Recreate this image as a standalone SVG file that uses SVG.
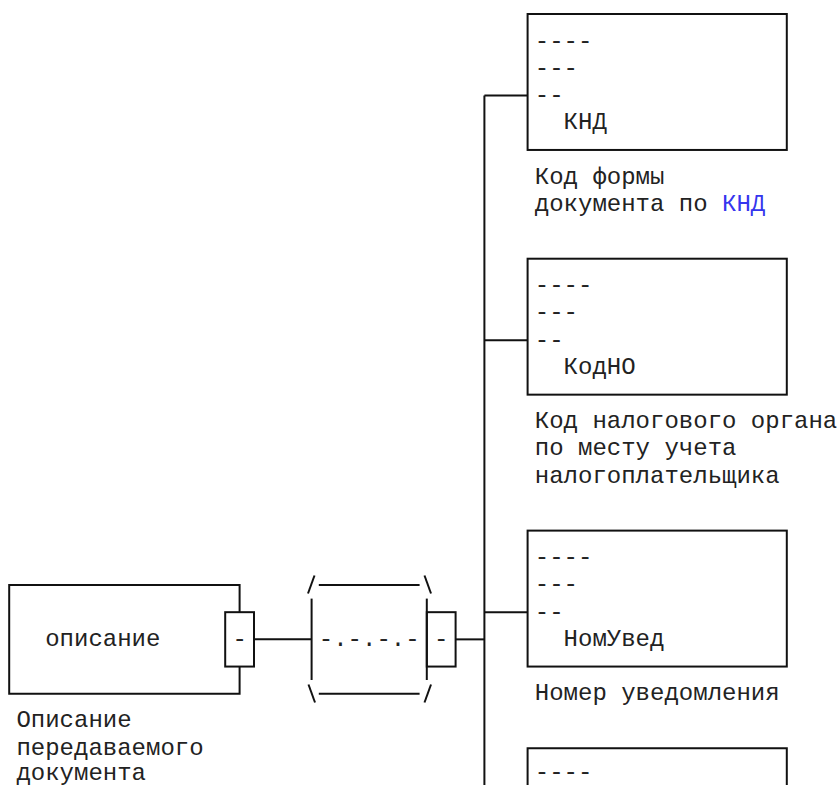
<svg xmlns="http://www.w3.org/2000/svg" width="840" height="785" viewBox="0 0 840 785">
<style>
  text { font-family: "Liberation Mono", "Courier New", monospace; font-size: 24px; fill: #222; white-space: pre; }
  .ln { fill: none; stroke: #111; stroke-width: 2; }
  .box { fill: #fff; stroke: #111; stroke-width: 2; }
  .link { fill: #3535ee; }
</style>
<rect width="840" height="785" fill="#fff"/>

<g id="connectors">
  <line class="ln" x1="484.4" y1="95.57" x2="484.4" y2="790"/>
  <line class="ln" x1="484.4" y1="95.57" x2="527.6" y2="95.57"/>
  <line class="ln" x1="484.4" y1="340.28" x2="527.6" y2="340.28"/>
  <line class="ln" x1="484.4" y1="612.18" x2="527.6" y2="612.18"/>
  <line class="ln" x1="254" y1="639.37" x2="311.6" y2="639.37"/>
  <line class="ln" x1="455.6" y1="639.37" x2="484.4" y2="639.37"/>
</g>

<g id="node-knd">
  <rect class="box" x="527.6" y="14" width="259.2" height="135.95"/>
  <text x="534.8" y="47.59">----</text>
  <text x="534.8" y="74.78">---</text>
  <text x="534.8" y="101.97">--</text>
  <text x="563.6" y="129.16">КНД</text>
  <text x="534.8" y="183.54">Код формы</text>
  <text x="534.8" y="210.73">документа по <tspan class="link">КНД</tspan></text>
</g>

<g id="node-kodno">
  <rect class="box" x="527.6" y="258.71" width="259.2" height="135.95"/>
  <text x="534.8" y="292.3">----</text>
  <text x="534.8" y="319.49">---</text>
  <text x="534.8" y="346.68">--</text>
  <text x="563.6" y="373.87">КодНО</text>
  <text x="534.8" y="428.25">Код налогового органа</text>
  <text x="534.8" y="455.44">по месту учета</text>
  <text x="534.8" y="482.63">налогоплательщика</text>
</g>

<g id="node-nomuved">
  <rect class="box" x="527.6" y="530.61" width="259.2" height="135.95"/>
  <text x="534.8" y="564.2">----</text>
  <text x="534.8" y="591.39">---</text>
  <text x="534.8" y="618.58">--</text>
  <text x="563.6" y="645.77">НомУвед</text>
  <text x="534.8" y="700.15">Номер уведомления</text>
</g>

<g id="node-next">
  <path class="ln" d="M527.6,795 V748.13 H786.8 V795"/>
  <text x="534.8" y="779">----</text>
</g>

<g id="node-opisanie">
  <rect class="box" x="9.2" y="585" width="230.4" height="108.75"/>
  <rect class="box" x="225.2" y="612.18" width="28.8" height="54.38"/>
  <text x="232.4" y="645.77">-</text>
  <text x="45.2" y="645.77">описание</text>
  <text x="16.4" y="727.34">Описание</text>
  <text x="16.4" y="754.53">передаваемого</text>
  <text x="16.4" y="779.5">документа</text>
</g>

<g id="node-sequence">
  <line class="ln" x1="311.6" y1="598.6" x2="311.6" y2="680"/>
  <line class="ln" x1="318.8" y1="585" x2="419.6" y2="585"/>
  <line class="ln" x1="318.8" y1="693.75" x2="419.6" y2="693.75"/>
  <line class="ln" x1="308" y1="593.5" x2="314.5" y2="575.5"/>
  <line class="ln" x1="424.5" y1="575.5" x2="431" y2="593.5"/>
  <line class="ln" x1="308.5" y1="684.5" x2="315" y2="702.5"/>
  <line class="ln" x1="431" y1="684.5" x2="424.5" y2="702.5"/>
  <rect class="box" x="426.8" y="612.18" width="28.8" height="54.38"/>
  <line class="ln" x1="426.8" y1="598.6" x2="426.8" y2="680"/>
  <text x="318.8" y="645.77">-.-.-.-</text>
  <text x="434" y="645.77">-</text>
</g>
</svg>
